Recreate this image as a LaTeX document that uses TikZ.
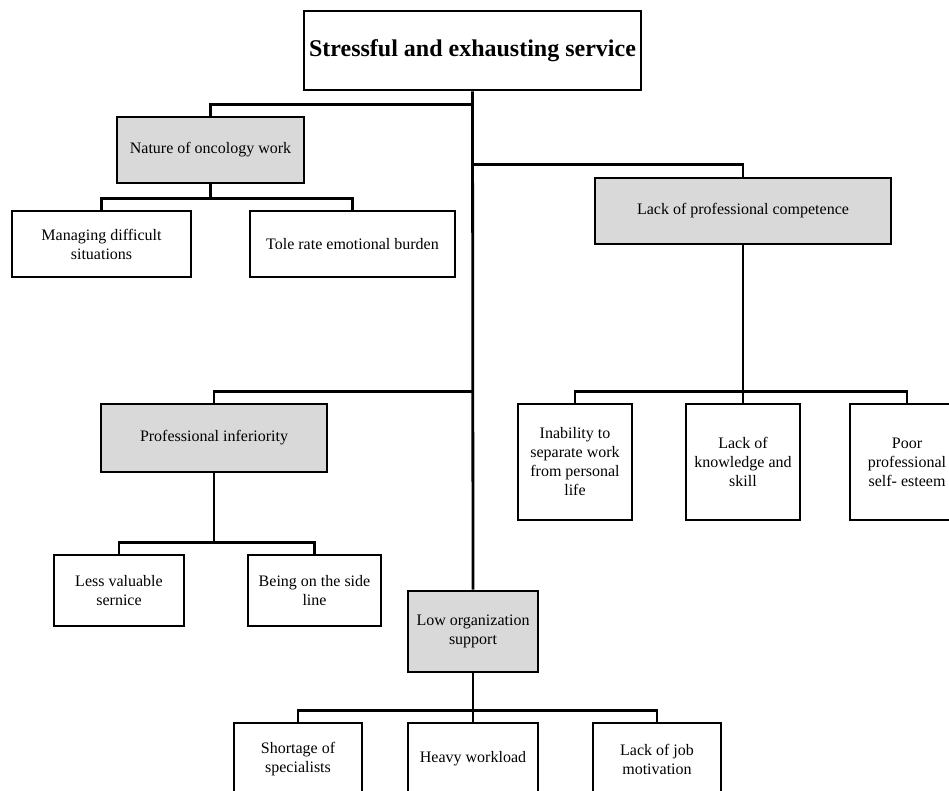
\documentclass[tikz,border=0pt]{standalone}
\usepackage{fontspec}
\setmainfont{Liberation Serif}
\usetikzlibrary{positioning}
\definecolor{boxgray}{RGB}{217,217,217}
\tikzset{
  leaf/.style={draw, line width=2.8pt, fill=white, align=center,
    font=\fontsize{16}{19}\selectfont, inner sep=2pt},
  theme/.style={leaf, fill=boxgray},
  root/.style={leaf, font=\fontsize{24}{28}\selectfont\bfseries},
  link/.style={line width=2.8pt},
}
\begin{document}
\begin{tikzpicture}[x=1pt, y=-1pt]
    % 1) Page frame, cut at the right and bottom edge
    \useasboundingbox (0,0) rectangle (949,791);
    \clip (0,0) rectangle (949,791);

    % 2) Root and the four themes
    \node[root, minimum width=337, minimum height=79] (top) at (472.5,50.5) {Stressful and exhausting service};
    \node[theme, minimum width=187, minimum height=66] (nature) at (210.5,150) {Nature of oncology work};
    \node[theme, minimum width=296, minimum height=66] (comp) at (743,211) {Lack of professional competence};
    \node[theme, minimum width=226, minimum height=68] (infer) at (214,438) {Professional inferiority};
    \node[theme, minimum width=130, minimum height=81] (low) at (473,631.5) {Low organization\\support};

    % 3) Sub-themes
    \node[leaf, minimum width=179, minimum height=66] (manage) at (101.5,244) {Managing difficult\\situations};
    \node[leaf, minimum width=205, minimum height=66] (tole) at (352.5,244) {Tole rate emotional burden};

    \node[leaf, minimum width=114, minimum height=116] (inab) at (575,462) {Inability to\\separate work\\from personal\\life};
    \node[leaf, minimum width=114, minimum height=116] (know) at (743,462) {Lack of\\knowledge and\\skill};
    \node[leaf, minimum width=114, minimum height=116] (poor) at (907,462) {Poor\\professional\\self- esteem};

    \node[leaf, minimum width=130, minimum height=71] (less) at (119,590.5) {Less valuable\\sernice};
    \node[leaf, minimum width=133, minimum height=71] (side) at (314.5,590.5) {Being on the side\\line};

    \node[leaf, minimum width=128, minimum height=72] (short) at (298,759) {Shortage of\\specialists};
    \node[leaf, minimum width=130, minimum height=72] (heavy) at (473,759) {Heavy workload};
    \node[leaf, minimum width=128, minimum height=72] (jobmot) at (657,759) {Lack of job\\motivation};

    % 4) Trunk and branches from the root
    \draw[link] (top.south) -- (low.north);
    \draw[link] (top.south) ++(0,13) -| (nature.north);
    \draw[link] (top.south) ++(0,73) -| (comp.north);
    \draw[link] (top.south) ++(0,300) -| (infer.north);

    % 5) Branches down to the sub-themes
    \draw[link] (nature.south) -- ++(0,14) -| (manage.north);
    \draw[link] (nature.south) ++(0,14) -| (tole.north);

    \draw[link] (comp.south) -- ++(0,146) -| (inab.north);
    \draw[link] (comp.south) ++(0,146) -| (poor.north);
    \draw[link] (comp.south) -- (know.north);

    \draw[link] (infer.south) -- ++(0,69) -| (less.north);
    \draw[link] (infer.south) ++(0,69) -| (side.north);

    \draw[link] (low.south) -- ++(0,37) -| (short.north);
    \draw[link] (low.south) ++(0,37) -| (jobmot.north);
    \draw[link] (low.south) -- (heavy.north);
\end{tikzpicture}
\end{document}
